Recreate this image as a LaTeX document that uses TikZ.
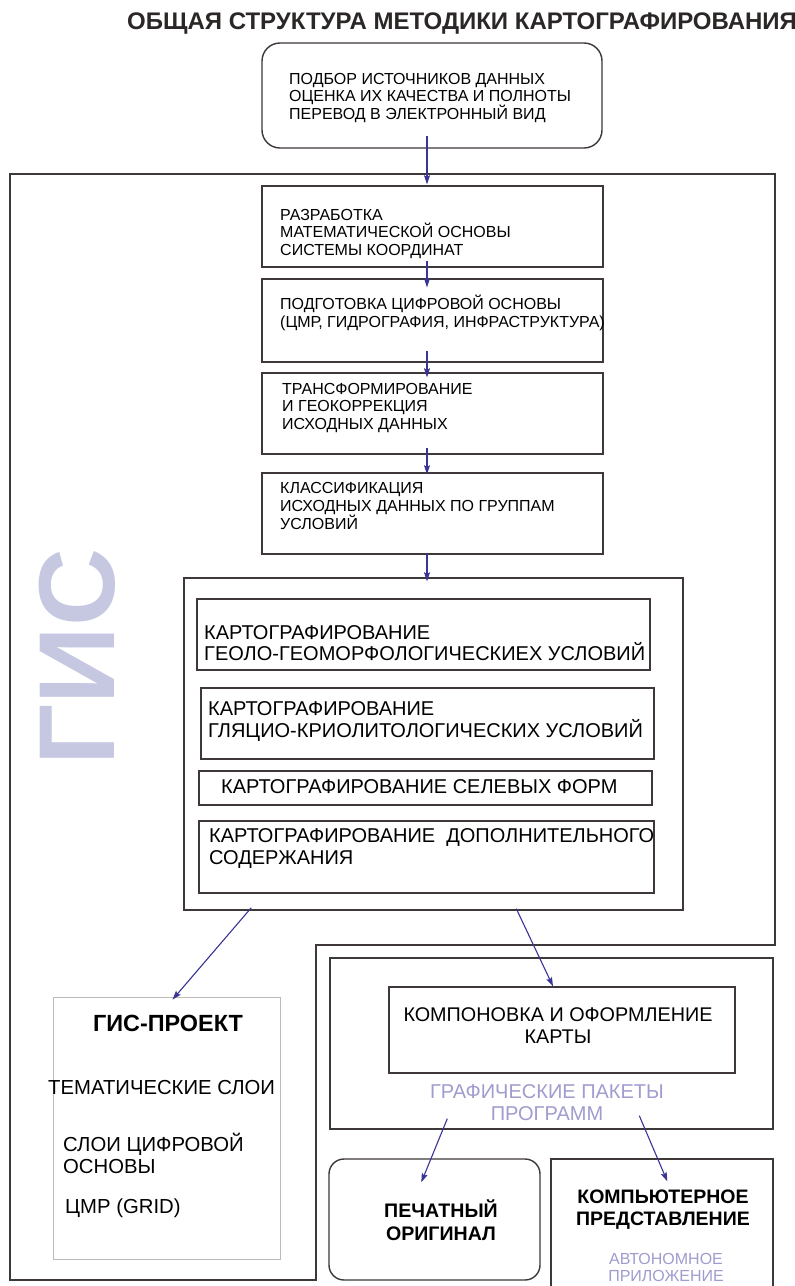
\documentclass[tikz,border=0pt]{standalone}
\usepackage{fontspec}
\setmainfont{Liberation Sans}
\usetikzlibrary{arrows.meta,positioning}

\definecolor{framegray}{RGB}{62,56,56}
\definecolor{projgray}{RGB}{190,186,186}
\definecolor{arrowblue}{RGB}{58,52,150}
\definecolor{gislav}{RGB}{198,200,226}
\definecolor{textlav}{RGB}{160,156,206}

\tikzset{
  stage/.style={draw=framegray, line width=1.4pt, inner sep=0pt},
  flowtext/.style={font=\fontsize{16}{17.8}\selectfont, align=left, anchor=west, inner sep=0pt},
  maptext/.style={font=\fontsize{20}{21.5}\selectfont, align=left, anchor=west, inner sep=0pt},
  flow/.style={arrowblue, line width=1.1pt, -{Stealth[length=9pt,width=6pt,inset=1.5pt]}},
}

\begin{document}
\begin{tikzpicture}[x=1pt, y=-1pt]
\def \xflow {432.5}
\def \wflow {341}
\def \wmap  {453}
\path [fill=white, use as bounding box] (0,0) rectangle (795,1286);

% title
\node [anchor=base west, inner sep=0pt, font=\bfseries\fontsize{24}{24}\selectfont, text=framegray!70!black] (title) at (127,29) {ОБЩАЯ СТРУКТУРА МЕТОДИКИ КАРТОГРАФИРОВАНИЯ};

% GIS frame
\draw [framegray, line width=1.4pt] (10,174) -| (775,945) -| (316,1280) -- (10,1280) -- cycle;
\node [rotate=90, inner sep=0pt, font=\bfseries\fontsize{108}{108}\selectfont, text=gislav] (gis) at (77,657) {ГИС};

% stages
\node [stage, rounded corners=18pt, minimum width=340, minimum height=105] (src) at (432,95.5) {};
\node [stage, minimum width=\wflow, minimum height=81] (st1) at (\xflow,226.5) {};
\node [stage, minimum width=\wflow, minimum height=83] (st2) at (\xflow,320.5) {};
\node [stage, minimum width=\wflow, minimum height=81] (st3) at (\xflow,413.5) {};
\node [stage, minimum width=\wflow, minimum height=81] (st4) at (\xflow,513.5) {};

\node [flowtext] (tsrc) at (289,98) {ПОДБОР ИСТОЧНИКОВ ДАННЫХ\\ОЦЕНКА ИХ КАЧЕСТВА И ПОЛНОТЫ\\ПЕРЕВОД В ЭЛЕКТРОННЫЙ ВИД};
\node [flowtext] (t1) at (280,234) {РАЗРАБОТКА\\МАТЕМАТИЧЕСКОЙ ОСНОВЫ\\СИСТЕМЫ КООРДИНАТ};
\node [flowtext] (t2) at (280,313) {ПОДГОТОВКА ЦИФРОВОЙ ОСНОВЫ\\(ЦМР, ГИДРОГРАФИЯ, ИНФРАСТРУКТУРА)};
\node [flowtext] (t3) at (282,408) {ТРАНСФОРМИРОВАНИЕ\\И ГЕОКОРРЕКЦИЯ\\ИСХОДНЫХ ДАННЫХ};
\node [flowtext] (t4) at (280,506) {КЛАССИФИКАЦИЯ\\ИСХОДНЫХ ДАННЫХ ПО ГРУППАМ\\УСЛОВИЙ};

% mapping block
\node [stage, minimum width=499, minimum height=332] (maps) at (433.5,744) {};
\node [stage, minimum width=\wmap, minimum height=71] (mA) at (423.5,634.5) {};
\node [stage, minimum width=\wmap, minimum height=71] (mB) at (427.5,723.5) {};
\node [stage, minimum width=\wmap, minimum height=34] (mC) at (425.5,788) {};
\node [stage, minimum width=455, minimum height=72] (mD) at (426.5,857) {};

\node [maptext] (tA) at (204,643) {КАРТОГРАФИРОВАНИЕ\\ГЕОЛО-ГЕОМОРФОЛОГИЧЕСКИЕХ УСЛОВИЙ};
\node [maptext] (tB) at (208,721.5) {КАРТОГРАФИРОВАНИЕ\\ГЛЯЦИО-КРИОЛИТОЛОГИЧЕСКИХ УСЛОВИЙ};
\node [maptext] (tC) at (221,787) {КАРТОГРАФИРОВАНИЕ СЕЛЕВЫХ ФОРМ};
\node [maptext] (tD) at (209,848.5) {КАРТОГРАФИРОВАНИЕ~ ДОПОЛНИТЕЛЬНОГО\\СОДЕРЖАНИЯ};

% GIS project
\node [draw=projgray, line width=0.8pt, minimum width=227, minimum height=262] (proj) at (166.5,1128) {};
\node [inner sep=0pt, font=\bfseries\fontsize{23.4}{23.4}\selectfont] (tproj) at (168,1023) {ГИС-ПРОЕКТ};
\node [maptext, font=\fontsize{20.3}{22.5}\selectfont] (tthem) at (48,1087) {ТЕМАТИЧЕСКИЕ СЛОИ};
\node [maptext, font=\fontsize{20.3}{22.5}\selectfont] (tbase) at (63,1153.5) {СЛОИ ЦИФРОВОЙ\\ОСНОВЫ};
\node [maptext, font=\fontsize{20.3}{22.5}\selectfont] (tdem) at (65,1208) {ЦМР (GRID)};

% graphics packages
\node [stage, minimum width=443, minimum height=171] (gfx) at (551.5,1043.5) {};
\node [stage, minimum width=346, minimum height=86] (lay) at (562,1030) {};
\node [maptext, anchor=center, align=center, font=\fontsize{19.8}{22}\selectfont] (tlay) at (558,1026) {КОМПОНОВКА И ОФОРМЛЕНИЕ\\КАРТЫ};
\node [maptext, anchor=center, align=center, text=textlav] (tgfx) at (547,1102.5) {ГРАФИЧЕСКИЕ ПАКЕТЫ\\ПРОГРАММ};

% outputs
\node [stage, rounded corners=15pt, minimum width=211, minimum height=121] (print) at (434.5,1219.5) {};
\node [stage, minimum width=222, minimum height=141] (comp) at (662,1229.5) {};
\node [maptext, anchor=center, align=center, font=\bfseries\fontsize{19.6}{22.5}\selectfont] (tprint) at (441,1220) {ПЕЧАТНЫЙ\\ОРИГИНАЛ};
\node [maptext, anchor=center, align=center, font=\bfseries\fontsize{19.5}{22.5}\selectfont] (tcomp) at (663,1209.5) {КОМПЬЮТЕРНОЕ\\ПРЕДСТАВЛЕНИЕ};
\node [maptext, anchor=center, align=center, text=textlav, font=\fontsize{16}{17}\selectfont] (tauto) at (666,1267) {АВТОНОМНОЕ\\ПРИЛОЖЕНИЕ};

% arrows
\draw [flow] ([xshift=-5pt,yshift=13pt]src.south) -- ([xshift=-5.5pt,yshift=1pt]st1.north);
\draw [flow] ([xshift=-5.5pt,yshift=7pt]st1.south) -- ([xshift=-5.5pt,yshift=-9pt]st2.north);
\draw [flow] ([xshift=-5.5pt,yshift=12pt]st2.south) -- ([xshift=-5.5pt,yshift=-5pt]st3.north);
\draw [flow] ([xshift=-5.5pt,yshift=7pt]st3.south) -- ([xshift=-5.5pt,yshift=-2pt]st4.north);
\draw [flow] ([xshift=-5.5pt,yshift=2pt]st4.south) -- ([xshift=-6.5pt,yshift=-4pt]maps.north);
\draw [flow] ([xshift=68pt,yshift=3pt]maps.south west) -- ([xshift=6pt,yshift=-3pt]proj.north);
\draw [flow] ([xshift=333pt,yshift=2pt]maps.south west) -- ([xshift=-9pt]lay.north);
\draw [flow] ([xshift=118pt,yshift=11pt]gfx.south west) -- ([xshift=93pt,yshift=-24pt]print.north west);
\draw [flow] ([xshift=310pt,yshift=14pt]gfx.south west) -- ([xshift=117pt,yshift=-23pt]comp.north west);

\end{tikzpicture}
\end{document}
